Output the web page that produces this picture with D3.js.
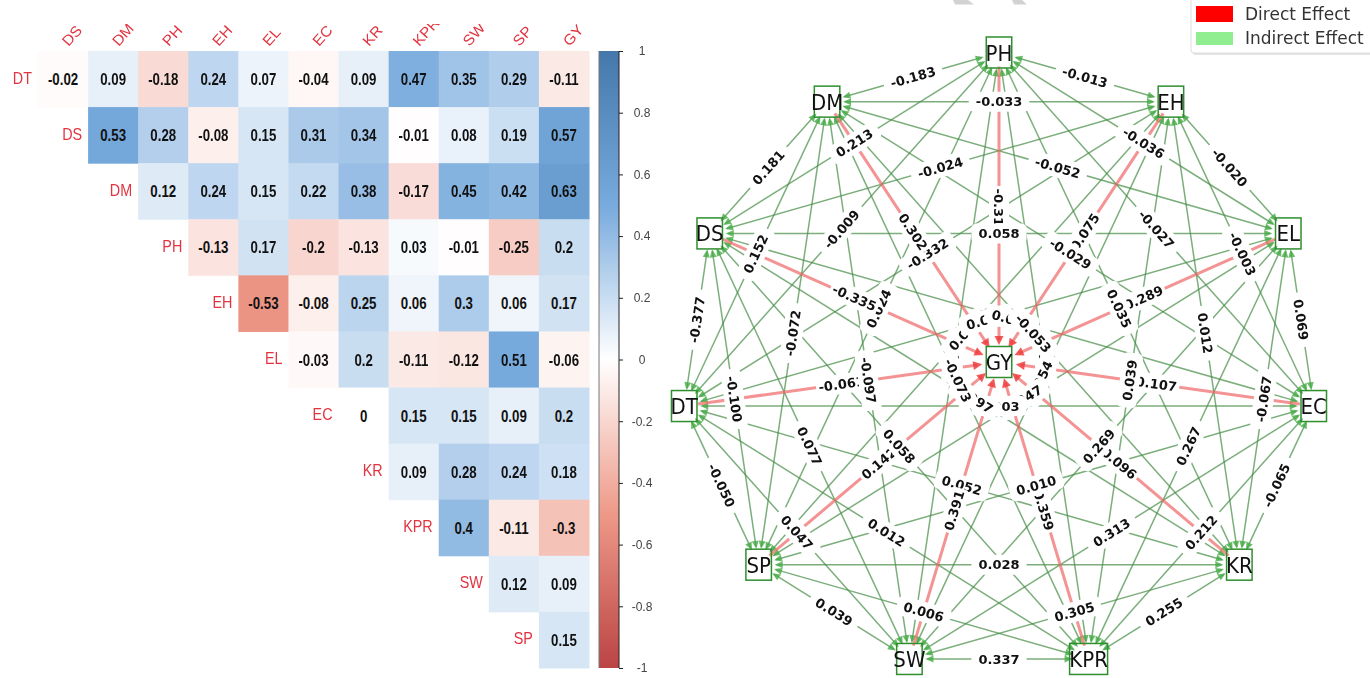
<!DOCTYPE html>
<html>
<head>
<meta charset="utf-8">
<script src="https://cdn.jsdelivr.net/npm/d3@7"></script>
<style>
  html, body { margin: 0; padding: 0; background: #fff; overflow: hidden; }
  svg { display: block; filter: blur(0.45px); }
</style>
</head>
<body>
<div id="chart"></div>
<script>
// Correlation matrix (upper triangle, row i starts at column i)
const rowNames = ["DT", "DS", "DM", "PH", "EH", "EL", "EC", "KR", "KPR", "SW", "SP"];
const colNames = ["DS", "DM", "PH", "EH", "EL", "EC", "KR", "KPR", "SW", "SP", "GY"];
const corrRows = [
  [-0.02, 0.09, -0.18, 0.24, 0.07, -0.04, 0.09, 0.47, 0.35, 0.29, -0.11],
  [0.53, 0.28, -0.08, 0.15, 0.31, 0.34, -0.01, 0.08, 0.19, 0.57],
  [0.12, 0.24, 0.15, 0.22, 0.38, -0.17, 0.45, 0.42, 0.63],
  [-0.13, 0.17, -0.2, -0.13, 0.03, -0.01, -0.25, 0.2],
  [-0.53, -0.08, 0.25, 0.06, 0.3, 0.06, 0.17],
  [-0.03, 0.2, -0.11, -0.12, 0.51, -0.06],
  [0, 0.15, 0.15, 0.09, 0.2],
  [0.09, 0.28, 0.24, 0.18],
  [0.4, -0.11, -0.3],
  [0.12, 0.09],
  [0.15]
];
const colorStops = [-1, -0.5, 0, 0.5, 1];
const colorRange = ["#BB4444", "#EE9988", "#FFFFFF", "#77AADD", "#4477AA"];
const barTicks = [1, 0.8, 0.6, 0.4, 0.2, 0, -0.2, -0.4, -0.6, -0.8, -1];

// Network: ring nodes clockwise from the top, GY in the middle
const ringNodes = ["PH", "EH", "EL", "EC", "KR", "KPR", "SW", "SP", "DT", "DS", "DM"];
const hubNode = "GY";
const legendNames = ["Direct Effect", "Indirect Effect"];
const legendColors = ["#ff0000", "#90ee90"];

// Edges in label drawing order, later labels cover earlier ones
const edges = [
  ["PH", "KPR", "-0.021"], ["SW", "PH", "0.018"], ["EH", "DT", "-0.332"], ["SP", "PH", "0.024"],
  ["PH", "GY", "-0.31"], ["EH", "GY", "0.075"], ["EL", "GY", "0.289"], ["EC", "GY", "0.107"],
  ["KR", "GY", "0.096"], ["KPR", "GY", "0.359"], ["SP", "GY", "0.142"],
  ["DT", "GY", "-0.061"], ["DS", "GY", "-0.335"], ["DM", "GY", "0.302"],
  ["PH", "EH", "-0.013"], ["EH", "EL", "-0.020"], ["EL", "EC", "0.069"], ["EC", "KR", "-0.065"],
  ["KR", "KPR", "0.255"], ["KPR", "SW", "0.337"], ["SW", "SP", "0.039"], ["SP", "DT", "-0.050"],
  ["DT", "DS", "-0.377"], ["DS", "DM", "0.181"], ["DM", "PH", "-0.183"],
  ["PH", "EL", "-0.036"], ["EH", "EC", "-0.003"], ["EL", "KR", "-0.067"], ["EC", "KPR", "0.212"],
  ["KR", "SW", "0.305"], ["KPR", "SP", "0.006"], ["SW", "DT", "0.047"], ["SP", "DS", "-0.100"],
  ["DT", "DM", "0.152"], ["DS", "PH", "0.213"], ["DM", "EH", "-0.033"],
  ["PH", "EC", "-0.027"], ["EH", "KR", "0.012"], ["EL", "KPR", "0.267"], ["EC", "SW", "0.313"],
  ["KR", "SP", "0.028"], ["KPR", "DT", "0.012"], ["SW", "DS", "0.077"], ["SP", "DM", "-0.072"],
  ["DT", "PH", "-0.009"], ["DS", "EH", "-0.024"], ["DM", "EL", "-0.052"],
  ["PH", "KR", "0.035"], ["EH", "KPR", "0.039"], ["EL", "SW", "0.269"], ["EC", "SP", "0.010"],
  ["KR", "DT", "0.052"], ["SW", "GY", "0.391"], ["KPR", "DS", "0.058"], ["SW", "DM", "-0.097"],
  ["DS", "EL", "0.058"], ["DM", "EC", "-0.029"],
  ["SP", "EH", "0.022"], ["DT", "EL", "0.041"], ["DS", "EC", "0.016"], ["DM", "KR", "-0.053"],
  ["EH", "SW", "0.054"], ["EL", "SP", "0.047"], ["EC", "DT", "0.003"], ["KR", "DS", "0.097"],
  ["KPR", "DM", "-0.073"]
];

const svg = d3.select("#chart").append("svg")
  .attr("width", 1370)
  .attr("height", 678);

const defs = svg.append("defs");

// ---------- heatmap ----------
const x = d3.scaleBand().domain(d3.range(colNames.length)).range([38, 589]);
const y = d3.scaleBand().domain(d3.range(rowNames.length)).range([51, 668]);
const color = d3.scaleLinear().domain(colorStops).range(colorRange);

const heat = svg.append("g");

corrRows.forEach((row, i) => {
  row.forEach((v, k) => {
    const j = i + k;
    heat.append("rect")
      .attr("x", x(j))
      .attr("y", y(i))
      .attr("width", x.bandwidth() + 0.5)
      .attr("height", y.bandwidth() + 0.5)
      .attr("fill", color(v));
    heat.append("text")
      .attr("transform", `translate(${x(j) + x.bandwidth() / 2},${y(i) + y.bandwidth() / 2 + 6}) scale(0.78,1)`)
      .attr("text-anchor", "middle")
      .attr("font-family", "Liberation Sans")
      .attr("font-weight", "bold")
      .attr("font-size", 17)
      .attr("fill", "#111")
      .text(v);
  });
  heat.append("text")
    .attr("transform", `translate(${x(i) - 6},${y(i) + y.bandwidth() / 2 + 4.5}) scale(0.87,1)`)
    .attr("text-anchor", "end")
    .attr("font-family", "Liberation Sans")
    .attr("font-size", 16.5)
    .attr("fill", "#e2333f")
    .text(rowNames[i]);
});

// top labels, the picture cuts them off at y = 24
defs.append("clipPath").attr("id", "topClip")
  .append("rect").attr("x", 0).attr("y", 24).attr("width", 640).attr("height", 40);

heat.append("g").attr("clip-path", "url(#topClip)")
  .selectAll("text")
  .data(colNames)
  .enter()
  .append("text")
  .attr("transform", (d, i) => `translate(${x(i) + x.bandwidth() / 2 + 5.5},${y(0) - 4}) rotate(-48) scale(1,0.95)`)
  .attr("font-family", "Liberation Sans")
  .attr("font-size", 15.5)
  .attr("fill", "#e2333f")
  .text(d => d);

// ---------- colour bar ----------
const barScale = d3.scaleLinear().domain([-1, 1]).range([668, 51]);

const grad = defs.append("linearGradient")
  .attr("id", "barGrad")
  .attr("x1", 0).attr("y1", 1).attr("x2", 0).attr("y2", 0);
colorStops.forEach((s, i) => {
  grad.append("stop")
    .attr("offset", (s + 1) / 2)
    .attr("stop-color", colorRange[i]);
});

svg.append("rect")
  .attr("x", 599)
  .attr("y", barScale(1))
  .attr("width", 20)
  .attr("height", barScale(-1) - barScale(1))
  .attr("fill", "url(#barGrad)");

svg.append("line")
  .attr("x1", 599).attr("x2", 599)
  .attr("y1", barScale(1)).attr("y2", barScale(-1))
  .attr("stroke", "#777");

const barAxis = svg.append("g")
  .attr("transform", "translate(619,0)")
  .call(d3.axisRight(barScale).tickValues(barTicks).tickSize(4).tickPadding(8).tickFormat(d => d));

barAxis.select(".domain").attr("stroke", "#222").attr("d", `M0,${barScale(1)}V${barScale(-1)}`);
barAxis.selectAll("line").attr("stroke", "#222");
barAxis.selectAll("text")
  .attr("x", 23)
  .attr("text-anchor", "middle")
  .attr("font-family", "Liberation Sans")
  .attr("font-size", 12)
  .attr("fill", "#444");

// ---------- network ----------
const netX = d3.scaleLinear().domain([-1, 1]).range([681, 1317]);
const netY = d3.scaleLinear().domain([-1, 1]).range([671.5, 52.5]);

// circular layout
const pos = new Map();
ringNodes.forEach((n, i) => {
  const a = Math.PI / 2 - i * 2 * Math.PI / ringNodes.length;
  pos.set(n, { x: netX(Math.cos(a)), y: netY(Math.sin(a)) });
});
pos.set(hubNode, { x: netX(0), y: netY(0) });

const net = svg.append("g");

function pointAlong(a, b, dist) {
  const len = Math.hypot(b.x - a.x, b.y - a.y);
  return { x: a.x + (b.x - a.x) * dist / len, y: a.y + (b.y - a.y) * dist / len };
}

function arrowPath(from, to, gap, len, half) {
  const tip = pointAlong(to, from, gap);
  const base = pointAlong(to, from, gap + len);
  const ux = (to.x - from.x) / Math.hypot(to.x - from.x, to.y - from.y);
  const uy = (to.y - from.y) / Math.hypot(to.x - from.x, to.y - from.y);
  const p = d3.path();
  p.moveTo(tip.x, tip.y);
  p.lineTo(base.x - uy * half, base.y + ux * half);
  p.lineTo(base.x + uy * half, base.y - ux * half);
  p.closePath();
  return p.toString();
}

const greenEdges = edges.filter(e => e[1] !== hubNode);
const redEdges = edges.filter(e => e[1] === hubNode);

greenEdges.forEach(e => {
  const a = pos.get(e[0]), b = pos.get(e[1]);
  const s = pointAlong(a, b, 18), t = pointAlong(b, a, 18);
  net.append("line")
    .attr("x1", s.x).attr("y1", s.y).attr("x2", t.x).attr("y2", t.y)
    .attr("stroke", "#4a8f4a")
    .attr("stroke-opacity", 0.72)
    .attr("stroke-width", 1.5);
  [[a, b], [b, a]].forEach(([from, to]) => {
    net.append("path")
      .attr("d", arrowPath(from, to, 16, 8, 3.5))
      .attr("fill", "#45ab45")
      .attr("fill-opacity", 0.8);
  });
});

redEdges.forEach(e => {
  const a = pos.get(e[0]), b = pos.get(e[1]);
  const s = pointAlong(a, b, 14), t = pointAlong(b, a, 22);
  net.append("line")
    .attr("x1", s.x).attr("y1", s.y).attr("x2", t.x).attr("y2", t.y)
    .attr("stroke", "#ef6a6a")
    .attr("stroke-opacity", 0.72)
    .attr("stroke-width", 3);
  net.append("path")
    .attr("d", arrowPath(a, b, 17, 9, 4.5))
    .attr("fill", "#f03c3c")
    .attr("fill-opacity", 0.85);
});

// edge labels with white boxes, in list order
edges.forEach(e => {
  const a = pos.get(e[0]), b = pos.get(e[1]);
  const mx = (a.x + b.x) / 2, my = (a.y + b.y) / 2;
  let angle = Math.atan2(b.y - a.y, b.x - a.x) * 180 / Math.PI;
  if (angle > 90) angle -= 180;
  if (angle < -90) angle += 180;
  const g = net.append("g").attr("transform", `translate(${mx},${my}) rotate(${angle})`);
  const box = g.append("rect").attr("fill", "#fff");
  const label = g.append("text")
    .attr("text-anchor", "middle")
    .attr("dy", "0.36em")
    .attr("font-family", "DejaVu Sans")
    .attr("font-weight", "bold")
    .attr("font-size", 13)
    .attr("fill", "#111")
    .text(e[2]);
  // red edges have a tighter box than the green ones
  const w = label.node().getComputedTextLength() + (e[1] === hubNode ? 5 : 14);
  box.attr("x", -w / 2).attr("y", -10).attr("width", w).attr("height", 20).attr("rx", 5);
});

// node boxes
pos.forEach((p, name) => {
  const w = name.length > 2 ? 38 : 25.5;
  net.append("rect")
    .attr("x", p.x - w / 2)
    .attr("y", p.y - 15.5)
    .attr("width", w)
    .attr("height", 31)
    .attr("fill", name === hubNode ? "#fff" : "none")
    .attr("stroke", "#2f8f2f")
    .attr("stroke-width", 1.5);
  net.append("text")
    .attr("transform", `translate(${p.x},${p.y + 8}) scale(0.9,1)`)
    .attr("text-anchor", "middle")
    .attr("font-family", "DejaVu Sans")
    .attr("font-size", 22)
    .attr("fill", "#111")
    .text(name);
});

// ---------- legend, top edge runs off the picture ----------
const legend = svg.append("g");

legend.append("rect")
  .attr("x", 1192.5).attr("y", -10)
  .attr("width", 190).attr("height", 65)
  .attr("rx", 3)
  .attr("fill", "#e4e4e4");
legend.append("rect")
  .attr("x", 1191).attr("y", -10)
  .attr("width", 190).attr("height", 63)
  .attr("rx", 3)
  .attr("fill", "#fff")
  .attr("stroke", "#ddd");

legendNames.forEach((name, i) => {
  legend.append("rect")
    .attr("x", 1196).attr("y", 6 + i * 26)
    .attr("width", 37).attr("height", i === 0 ? 16 : 13)
    .attr("fill", legendColors[i]);
  legend.append("text")
    .attr("x", 1245).attr("y", 20 + i * 24)
    .attr("font-family", "DejaVu Sans")
    .attr("font-size", 17)
    .attr("fill", "#333")
    .text(name);
});

// grey hatched scraps along the top edge of the picture
const scraps = [[953, 968, 974], [1012, 1022, 1027]];
scraps.forEach(s => {
  svg.append("path")
    .attr("d", `M${s[0]},0L${s[0] + 2},4.5L${s[2]},4.5L${s[1]},0Z`)
    .attr("fill", "#d2d2d2");
});
</script>
</body>
</html>
